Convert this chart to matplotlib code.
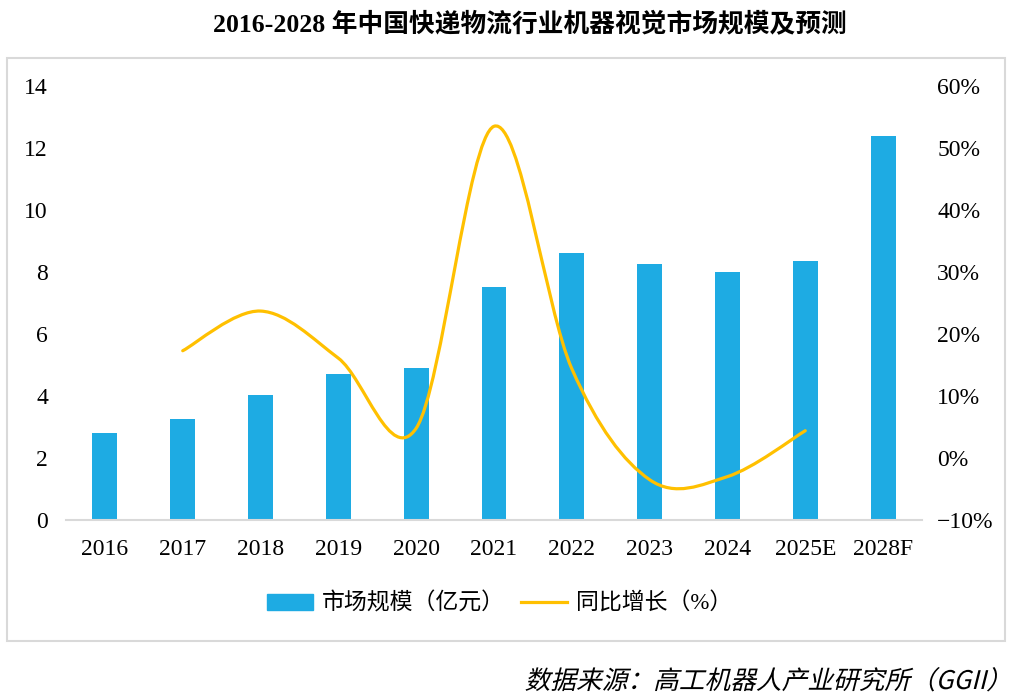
import numpy as np
import matplotlib
matplotlib.use('Agg')
import matplotlib.pyplot as plt
from matplotlib.path import Path
from matplotlib.patches import PathPatch, Rectangle
from matplotlib.lines import Line2D
from matplotlib.textpath import TextPath
from matplotlib.font_manager import FontProperties
from matplotlib.transforms import Affine2D

categories = ['2016', '2017', '2018', '2019', '2020', '2021', '2022', '2023', '2024', '2025E', '2028F']
market_size = [2.81, 3.26, 4.03, 4.71, 4.90, 7.52, 8.61, 8.26, 8.00, 8.35, 12.39]
growth_pct = [None, 17.3, 23.7, 16.1, 4.8, 53.5, 14.4, -3.5, -3.0, 4.4, None]
left_ticks = [0, 2, 4, 6, 8, 10, 12, 14]
right_ticks = [-10, 0, 10, 20, 30, 40, 50, 60]

title = '2016-2028 年中国快递物流行业机器视觉市场规模及预测'
bar_label = '市场规模（亿元）'
line_label = '同比增长（%）'
source = '数据来源：高工机器人产业研究所（GGII）'

BAR_COLOR = '#1EABE3'
LINE_COLOR = '#FFC000'
GRAY = '#D9D9D9'
FAM = ['Liberation Serif', 'Noto Sans CJK SC']

plt.rcParams['font.family'] = FAM

W, H = 1010, 699
fig = plt.figure(figsize=(W / 100, H / 100), dpi=100)

# outer border
fig.patches.append(Rectangle((7 / W, (H - 641) / H), 998 / W, 583 / H, transform=fig.transFigure,
                             fill=False, edgecolor=GRAY, linewidth=1.5))

ax = fig.add_axes([66 / W, (H - 520) / H, 856 / W, 434 / H])
x = np.arange(len(categories))
ax.bar(x, market_size, width=0.32, color=BAR_COLOR, zorder=2)
ax.set_xlim(-0.5, len(categories) - 0.5)
ax.set_ylim(0, 14)
ax.set_yticks(left_ticks)
ax.set_yticklabels([str(t) for t in left_ticks], fontsize=17)
ax.set_xticks(x)
ax.set_xticklabels(categories, fontsize=17)
ax.tick_params(axis='x', length=0, pad=14)
ax.tick_params(axis='y', length=0, pad=13)
for s in ['top', 'left', 'right']:
    ax.spines[s].set_visible(False)
ax.spines['bottom'].set_color(GRAY)
ax.spines['bottom'].set_linewidth(1.5)

ax2 = ax.twinx()
ax2.set_ylim(-10, 60)
ax2.set_yticks(right_ticks)
ax2.set_yticklabels([('\u2212' if t < 0 else '') + f'{abs(t)}%' for t in right_ticks], fontsize=17)
ax2.tick_params(axis='y', length=0, pad=11)
for s in ax2.spines.values():
    s.set_visible(False)

# smoothed line (Catmull-Rom as cubic Bezier)
pts = [(i, v) for i, v in enumerate(growth_pct) if v is not None]
P = np.array(pts, dtype=float)
n = len(P)
verts = [tuple(P[0])]
codes = [Path.MOVETO]
for j in range(n - 1):
    p0 = P[j - 1] if j > 0 else P[j]
    p1 = P[j]
    p2 = P[j + 1]
    p3 = P[j + 2] if j + 2 < n else P[j + 1]
    b1 = p1 + (p2 - p0) / 6.0
    b2 = p2 - (p3 - p1) / 6.0
    verts += [tuple(b1), tuple(b2), tuple(p2)]
    codes += [Path.CURVE4] * 3
ax2.add_patch(PathPatch(Path(verts, codes), fill=False, edgecolor=LINE_COLOR, linewidth=2.3,
                        capstyle='round', joinstyle='round', zorder=3))

# title
fig.text(530 / W, (H - 24) / H, title, ha='center', va='center', fontsize=18.5, fontweight='bold')

# legend
handles = [Rectangle((0, 0), 1, 1, color=BAR_COLOR), Line2D([0], [0], color=LINE_COLOR, linewidth=2.3)]
fig.legend(handles, [bar_label, line_label], loc='center', bbox_to_anchor=(500 / W, (H - 604) / H),
           ncol=2, frameon=False, handlelength=2.0, handleheight=0.7,
           handletextpad=0.4, columnspacing=0.7, prop={'family': FAM, 'size': 16.5})

# italic-like source text via skewed text path
fp = FontProperties(family='Noto Sans CJK SC', size=18.5)
tp = TextPath((0, 0), source, prop=fp)
ext = tp.get_extents()
right_px, base_px = 994, H - 689
tr = (Affine2D().translate(-ext.x1, 0).skew_deg(14, 0).scale(1 / 72.0)
      .translate(right_px / 100.0, base_px / 100.0) + fig.dpi_scale_trans)
fig.patches.append(PathPatch(tp, transform=tr, facecolor='black', edgecolor='none'))

fig.savefig('out.png', dpi=100)
